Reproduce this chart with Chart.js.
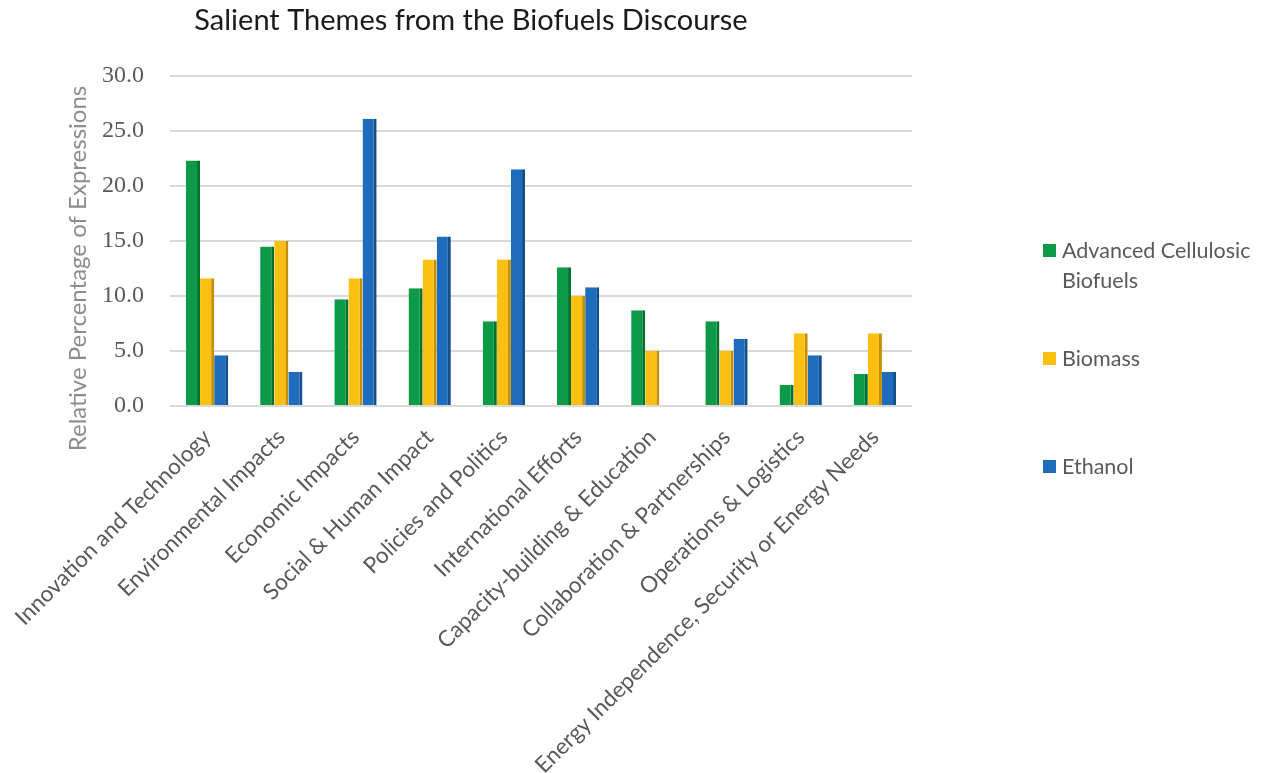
<!DOCTYPE html>
<html>
<head>
<meta charset="utf-8">
<title>Salient Themes from the Biofuels Discourse</title>
<script src="https://cdn.jsdelivr.net/npm/chart.js@4/dist/chart.umd.min.js"></script>
<style>
  body { margin: 0; background: #fff; }
  #wrap { position: relative; width: 1265px; height: 773px; }
  #legend {
    position: absolute; left: 1043px; top: 235px; width: 222px;
    font-family: Lato, "Open Sans", sans-serif; font-size: 21.5px; color: #595959;
  }
  .legend-item { display: flex; align-items: flex-start; height: 108px; }
  .legend-dot { width: 13px; height: 13px; margin: 9px 6px 0 0; flex: none; }
  .legend-text { line-height: 30px; }
</style>
</head>
<body>
<div id="wrap">
  <canvas id="chart" width="1265" height="773"></canvas>
  <div id="legend"></div>
</div>
<script>
// ------------------------------------------------------------
// Data
// ------------------------------------------------------------
const themes = [
  "Innovation and Technology",
  "Environmental Impacts",
  "Economic Impacts",
  "Social & Human Impact",
  "Policies and Politics",
  "International Efforts",
  "Capacity-building & Education",
  "Collaboration & Partnerships",
  "Operations & Logistics",
  "Energy Independence, Security or Energy Needs"
];

const seriesNames = ["Advanced Cellulosic Biofuels", "Biomass", "Ethanol"];

const advancedCellulosic = [22.3, 14.5, 9.7, 10.7, 7.7, 12.6, 8.7, 7.7, 1.9, 2.9];
const biomass            = [11.6, 15.0, 11.6, 13.3, 13.3, 10.0, 5.0, 5.0, 6.6, 6.6];
const ethanol            = [4.6, 3.1, 26.1, 15.4, 21.5, 10.8, 0.1, 6.1, 4.6, 3.1];

const yTicks = [0, 5, 10, 15, 20, 25, 30];

// front colour + darker side colour (fake 3D edge)
const faceColors = ["#0c9a48", "#fcc012", "#1f6cbd"];
const sideColors = ["#06702f", "#c4900a", "#124f8c"];

// ------------------------------------------------------------
// Chart
// ------------------------------------------------------------
const TEXT_FONT = "Lato, 'Open Sans', sans-serif";

function makeDataset(i, values) {
  return {
    label: seriesNames[i],
    data: values,
    backgroundColor: faceColors[i],
    borderColor: sideColors[i],
    borderWidth: { top: 0, left: 0, bottom: 0, right: 3 },
    borderSkipped: false,
    categoryPercentage: 0.57,
    barPercentage: 1.0,
  };
}

const ctx2d = document.getElementById("chart").getContext("2d");

const chart = new Chart(ctx2d, {
  type: "bar",
  data: {
    labels: themes,
    datasets: [
      makeDataset(0, advancedCellulosic),
      makeDataset(1, biomass),
      makeDataset(2, ethanol),
    ]
  },
  options: {
    responsive: false,
    animation: false,
    layout: { padding: { left: 30, right: 353, top: 0, bottom: 0 } },
    plugins: {
      legend: { display: false },
      tooltip: { enabled: false },
      title: {
        display: true,
        text: "Salient Themes from the Biofuels Discourse",
        color: "#1a1a1a",
        font: { family: TEXT_FONT, size: 29, weight: "normal" },
        padding: { top: 3, bottom: 38 },
      }
    },
    scales: {
      x: {
        grid: { display: false },
        border: { display: false },
        ticks: {
          color: "#595959",
          font: { family: TEXT_FONT, size: 22.5 },
          minRotation: 45,
          maxRotation: 45,
          autoSkip: false,
          padding: 10,
        },
        afterFit: s => { s.height = 367; }
      },
      y: {
        min: 0, max: 30,
        afterBuildTicks: s => { s.ticks = yTicks.map(v => ({ value: v })); },
        afterFit: s => { s.width = 140; },
        grid: { color: "#d9d9d9", lineWidth: 2, drawTicks: false },
        border: { display: false },
        ticks: {
          color: "#595959",
          font: { family: "'Liberation Serif', serif", size: 24 },
          padding: 26,
          callback: v => Number(v).toFixed(1),
        },
        title: {
          display: true,
          // trailing spaces nudge the centred title a bit lower, as in the original
          text: "Relative Percentage of Expressions         ",
          color: "#8c8c8c",
          font: { family: TEXT_FONT, size: 24 },
          padding: { top: 34, bottom: 0 },
        }
      }
    }
  }
});

// ------------------------------------------------------------
// Legend on the right (built from the chart's datasets)
// ------------------------------------------------------------
const legendEl = document.getElementById("legend");
chart.data.datasets.forEach(ds => {
  const item = document.createElement("div");
  item.className = "legend-item";
  item.innerHTML =
    '<div class="legend-dot" style="background:' + ds.backgroundColor + '"></div>' +
    '<span class="legend-text">' + ds.label + "</span>";
  legendEl.appendChild(item);
});
</script>
</body>
</html>
